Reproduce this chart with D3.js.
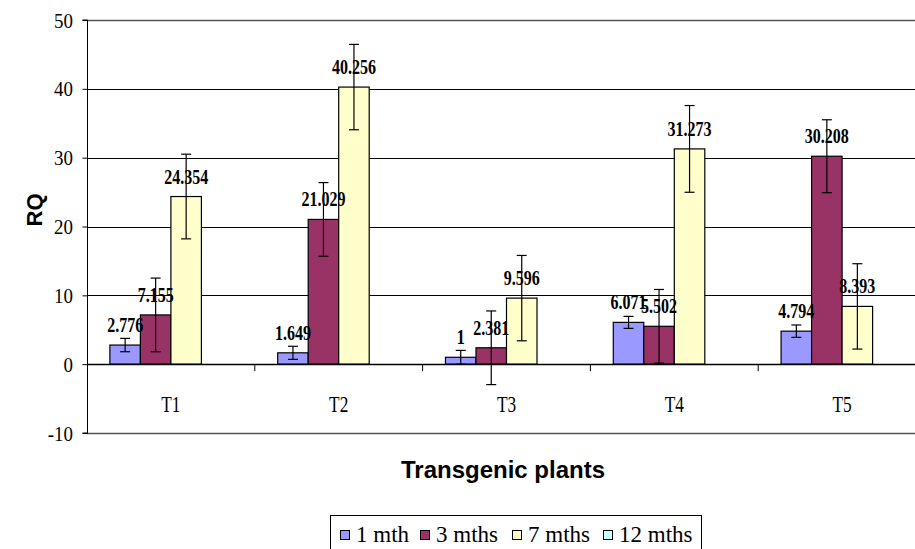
<!DOCTYPE html>
<html>
<head>
<meta charset="utf-8">
<script src="https://cdn.jsdelivr.net/npm/d3@7"></script>
<style>
  html, body { margin: 0; padding: 0; background: #fff; }
  svg { display: block; }
</style>
</head>
<body>
<svg id="chart" width="915" height="549"></svg>
<script>
// ---- data ----
const categories = ["T1", "T2", "T3", "T4", "T5"];
const seriesNames = ["1 mth", "3 mths", "7 mths", "12 mths"];
const mth1  = [2.776, 1.649, 1, 6.071, 4.794];
const mth3  = [7.155, 21.029, 2.381, 5.502, 30.208];
const mth7  = [24.354, 40.256, 9.596, 31.273, 8.393];
const mth12 = [null, null, null, null, null];
const err1  = [0.97, 0.95, 1.0, 0.87, 0.9];
const err3  = [5.35, 5.35, 5.35, 5.35, 5.3];
const err7  = [6.15, 6.2, 6.2, 6.3, 6.2];
const err12 = [null, null, null, null, null];
const yTicks = [-10, 0, 10, 20, 30, 40, 50];
const colors = ["#9999FF", "#993366", "#FFFFCC", "#CCFFFF"];
const yTitle = "RQ";
const xTitle = "Transgenic plants";

const values = [mth1, mth3, mth7, mth12];
const errors = [err1, err3, err7, err12];

const svg = d3.select("#chart");
svg.append("rect").attr("width", 915).attr("height", 549).attr("fill", "#fff");

const pLeft = 87, pRight = 926, pTop = 20, pBottom = 433;
const x0 = d3.scaleBand().domain(categories).range([pLeft, pRight]).paddingInner(0).paddingOuter(0);
const x1 = d3.scaleBand().domain(seriesNames).range([0, x0.bandwidth()]).paddingInner(0).paddingOuter(0.75);
const y = d3.scaleLinear().domain([-10, 50]).range([pBottom, pTop]);

const serif = "'Liberation Serif', 'DejaVu Serif', serif";
const sans = "'Liberation Sans', 'DejaVu Sans', sans-serif";

function sText(g, x, yy, str, opts) {
  const sx = opts.sx || 1;
  return g.append("text")
    .attr("transform", `translate(${x},${yy}) scale(${sx},1)`)
    .attr("text-anchor", opts.anchor || "middle")
    .attr("font-family", opts.family || serif)
    .attr("font-size", opts.size)
    .attr("font-weight", opts.weight || "normal")
    .attr("fill", "#000")
    .text(str);
}

// gridlines
const grid = svg.append("g");
grid.selectAll("line").data(yTicks.filter(t => t !== 0 && t !== -10 && t !== 50)).join("line")
  .attr("x1", pLeft).attr("x2", 915)
  .attr("y1", d => Math.round(y(d)) + 0.5).attr("y2", d => Math.round(y(d)) + 0.5)
  .attr("stroke", "#000").attr("stroke-width", 1);
// plot border top & bottom
[50, -10].forEach(v => {
  svg.append("line").attr("x1", pLeft).attr("x2", 915)
    .attr("y1", Math.round(y(v)) + 0.5).attr("y2", Math.round(y(v)) + 0.5)
    .attr("stroke", "#555").attr("stroke-width", 1.5);
});

// y axis
const yAxis = d3.axisLeft(y).tickValues(yTicks).tickSize(5).tickFormat("");
const yg = svg.append("g").attr("transform", `translate(${pLeft + 0.5},0)`).call(yAxis);
yg.selectAll("path, line").attr("stroke", "#000").attr("stroke-width", 1);
yg.select(".domain").attr("d", `M-5,${y(50)}H0V${y(-10)}H-5`);
yTicks.forEach(t => {
  sText(svg, 73, y(t) + 7.5, String(t), { size: 22, anchor: "end", sx: 0.86 });
});

// bars
const groups = svg.append("g").selectAll("g").data(categories).join("g")
  .attr("transform", d => `translate(${x0(d)},0)`);

seriesNames.forEach((s, si) => {
  groups.each(function(c, ci) {
    const v = values[si][ci];
    if (v == null) return;
    const g = d3.select(this);
    const bx = x1(s), bw = x1.bandwidth();
    g.append("rect")
      .attr("x", bx).attr("width", bw)
      .attr("y", Math.min(y(v), y(0))).attr("height", Math.abs(y(0) - y(v)))
      .attr("fill", colors[si]).attr("stroke", "#000").attr("stroke-width", 1.2);
  });
});

// zero (category) axis
const xAxis = d3.axisBottom(x0).tickSize(0).tickFormat("");
const xg = svg.append("g").attr("transform", `translate(0,${Math.round(y(0)) + 0.5})`).call(xAxis);
xg.select(".domain").attr("d", `M${pLeft},0H915`).attr("stroke", "#000").attr("stroke-width", 1.3);
// boundary ticks
categories.slice(1).forEach(c => {
  svg.append("line").attr("x1", x0(c)).attr("x2", x0(c))
    .attr("y1", y(0)).attr("y2", y(0) + 7).attr("stroke", "#000");
});
categories.forEach(c => {
  sText(svg, x0(c) + x0.bandwidth() / 2, 412, c, { size: 24, sx: 0.72 });
});

// error bars and labels
seriesNames.forEach((s, si) => {
  groups.each(function(c, ci) {
    const v = values[si][ci];
    if (v == null) return;
    const e = errors[si][ci];
    const g = d3.select(this);
    const cx = x1(s) + x1.bandwidth() / 2;
    const yT = y(v + e), yB = y(v - e);
    g.append("line").attr("x1", cx).attr("x2", cx).attr("y1", yT).attr("y2", yB)
      .attr("stroke", "#000").attr("stroke-width", 1.2);
    [yT, yB].forEach(yy => {
      g.append("line").attr("x1", cx - 5).attr("x2", cx + 5).attr("y1", yy).attr("y2", yy)
        .attr("stroke", "#000").attr("stroke-width", 1.2);
    });
  });
});
seriesNames.forEach((s, si) => {
  groups.each(function(c, ci) {
    const v = values[si][ci];
    if (v == null) return;
    const g = d3.select(this);
    const cx = x1(s) + x1.bandwidth() / 2;
    sText(g, cx, y(v) - 13, String(v), { size: 20, weight: "bold", sx: 0.8 });
  });
});

// axis titles
svg.append("text")
  .attr("transform", `translate(42,210) rotate(-90)`)
  .attr("text-anchor", "middle")
  .attr("font-family", sans).attr("font-weight", "bold").attr("font-size", 22)
  .text(yTitle);
svg.append("text")
  .attr("x", 503).attr("y", 478)
  .attr("text-anchor", "middle")
  .attr("font-family", sans).attr("font-weight", "bold").attr("font-size", 24)
  .text(xTitle);

// legend
const lg = svg.append("g");
lg.append("rect").attr("x", 330.5).attr("y", 515.5).attr("width", 371).attr("height", 50)
  .attr("fill", "#fff").attr("stroke", "#000").attr("stroke-width", 1);
const legendX = [340, 420, 512, 603];
seriesNames.forEach((s, i) => {
  lg.append("rect").attr("x", legendX[i] + 0.5).attr("y", 530.5).attr("width", 9).attr("height", 9)
    .attr("fill", colors[i]).attr("stroke", "#000").attr("stroke-width", 1);
  sText(lg, legendX[i] + 16, 542, s, { size: 23, anchor: "start", sx: 1 });
});
</script>
</body>
</html>
